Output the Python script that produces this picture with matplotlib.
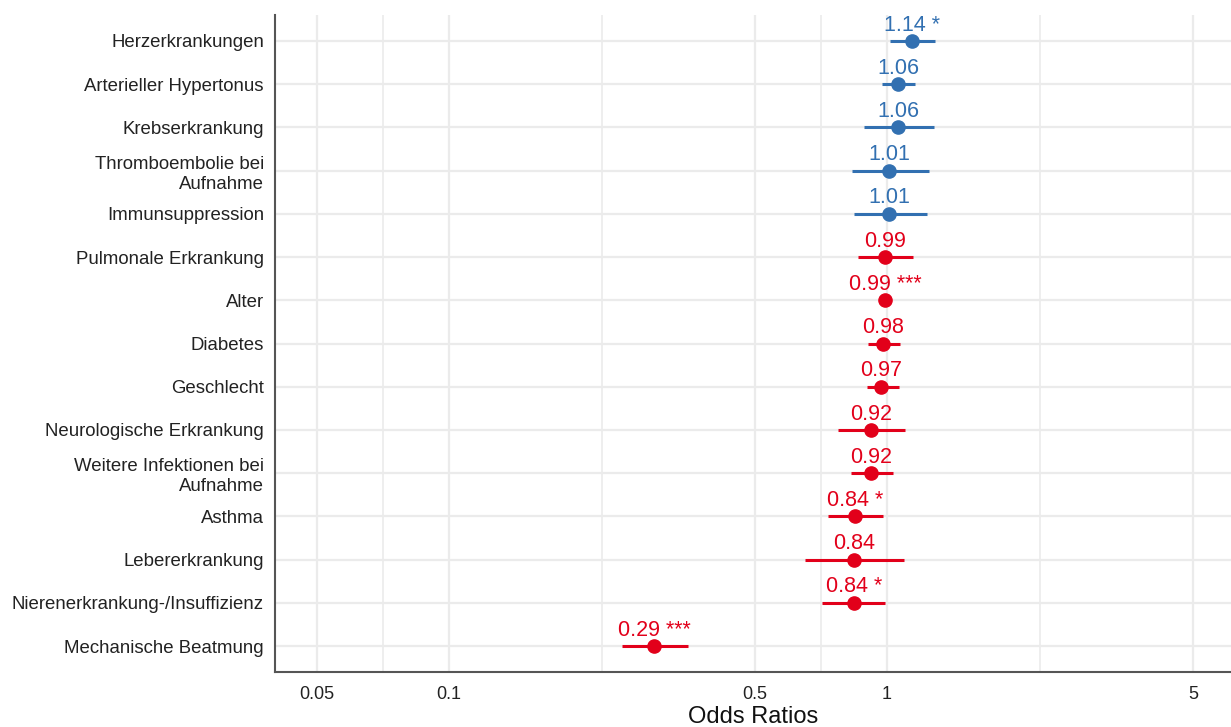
import numpy as np
import matplotlib.pyplot as plt
from matplotlib.ticker import FixedLocator, NullFormatter

plt.rcParams['font.family'] = ['Liberation Sans', 'DejaVu Sans']

# data
terms = ['Herzerkrankungen', 'Arterieller Hypertonus', 'Krebserkrankung',
         'Thromboembolie bei\nAufnahme', 'Immunsuppression', 'Pulmonale Erkrankung',
         'Alter', 'Diabetes', 'Geschlecht', 'Neurologische Erkrankung',
         'Weitere Infektionen bei\nAufnahme', 'Asthma', 'Lebererkrankung',
         'Nierenerkrankung-/Insuffizienz', 'Mechanische Beatmung']
estimates = [1.14, 1.06, 1.06, 1.01, 1.01, 0.99, 0.99, 0.98, 0.97, 0.92, 0.92, 0.845, 0.843, 0.84, 0.294]
ci_low = [1.016, 0.974, 0.886, 0.832, 0.841, 0.858, 0.985, 0.905, 0.90, 0.773, 0.828, 0.733, 0.65, 0.711, 0.248]
ci_high = [1.287, 1.159, 1.28, 1.247, 1.234, 1.146, 0.995, 1.07, 1.065, 1.099, 1.032, 0.979, 1.093, 0.99, 0.351]
stars = ['*', '', '', '', '', '', '***', '', '', '', '', '*', '', '*', '***']

x_ticks = [0.05, 0.1, 0.5, 1, 5]
x_tick_labels = ['0.05', '0.1', '0.5', '1', '5']

BLUE = '#3270B1'
RED = '#E2001A'

fig = plt.figure(figsize=(12.31, 7.27), dpi=100)
ax = fig.add_axes([275 / 1231, 1 - 672 / 727, 1 - 275 / 1231, (672 - 15) / 727])

ax.set_xscale('log')
ax.set_xlim(0.0401, 6.1)
ax.set_ylim(14.6, -0.6)

# grid: major at breaks, minor at log-midpoints
minor = [np.sqrt(a * b) for a, b in zip(x_ticks[:-1], x_ticks[1:])]
ax.xaxis.set_major_locator(FixedLocator(x_ticks))
ax.set_xticklabels(x_tick_labels)
ax.xaxis.set_minor_locator(FixedLocator(minor))
ax.xaxis.set_minor_formatter(NullFormatter())
ax.set_yticks(range(len(terms)))
ax.set_yticklabels(terms, fontsize=13.4, color='#222222', linespacing=1.25)

ax.grid(True, which='major', axis='both', color='#EBEBEB', lw=1.6, zorder=0)
ax.grid(True, which='minor', axis='x', color='#EBEBEB', lw=1.2, zorder=0)
ax.set_axisbelow(True)

for i, (est, lo, hi, st) in enumerate(zip(estimates, ci_low, ci_high, stars)):
    c = BLUE if est > 1 else RED
    ax.plot([lo, hi], [i, i], color=c, lw=2.2, solid_capstyle='butt', zorder=3)
    ax.plot(est, i, 'o', color=c, ms=9.5, zorder=4)
    lab = f'{est:.2f}' + (f' {st}' if st else '')
    ax.annotate(lab, (est, i), xytext=(0, 7.5), textcoords='offset points',
                ha='center', va='baseline', fontsize=15.5, color=c, zorder=5)

for s in ['top', 'right']:
    ax.spines[s].set_visible(False)
for s in ['left', 'bottom']:
    ax.spines[s].set_color('#555555')
    ax.spines[s].set_linewidth(1.5)

ax.tick_params(axis='both', which='both', length=0)
ax.tick_params(axis='x', labelsize=13, colors='#222222', pad=10)
ax.tick_params(axis='y', pad=8)
ax.set_xlabel('Odds Ratios', fontsize=17, color='#111111', labelpad=2)

fig.savefig('out.png', dpi=100)
